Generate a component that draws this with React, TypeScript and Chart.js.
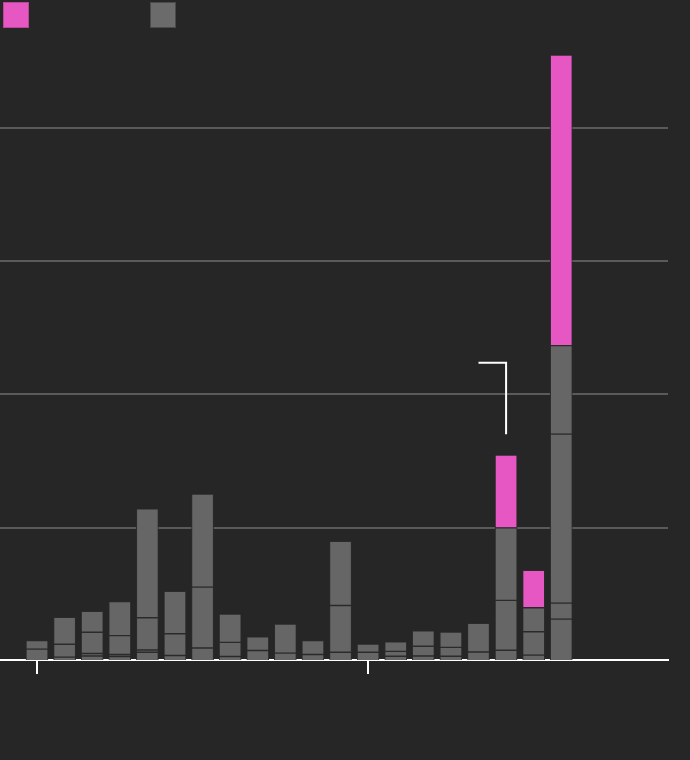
import React, { useEffect, useRef } from "react";
import { Chart, registerables } from "chart.js";

Chart.register(...registerables);

// Category positions (month index) for the 20 bars
const categories = [0, 1, 2, 3, 4, 5, 6, 7, 8, 9, 10, 11, 12, 13, 14, 15, 16, 17, 18, 19];

// Stacked gray components (bottom -> top)
const grayA = [8.9, 3.0, 3.8, 3.4, 6.6, 4.2, 9.8, 3.4, 7.9, 6.0, 4.9, 6.6, 6.6, 3.6, 3.8, 3.6, 6.8, 8.1, 4.5, 31.5];
const grayB = [6.5, 9.6, 1.9, 1.5, 1.7, 16.3, 45.6, 10.6, 10.3, 21.7, 10.5, 35.1, 6.2, 3.7, 7.3, 6.7, 21.5, 37.4, 17.5, 12.0];
const grayC = [null, 20.2, 15.9, 14.2, 24.2, 31.8, 69.9, 21.2, null, null, null, 48.1, null, 7.2, 11.5, 11.5, null, 54.4, 18.0, 126.7];
const grayD = [null, null, 15.7, 25.6, 81.7, null, null, null, null, null, null, null, null, null, null, null, null, null, null, 66.4];
// Highlighted (pink) component
const pink = [null, null, null, null, null, null, null, null, null, null, null, null, null, null, null, null, null, 54.5, 28.0, 217.8];

// Annotation leader line (x in category index, y in value units)
const leaderX = [16, 17, 17];
const leaderY = [223.8, 223.8, 170.1];

const yStep = 100;

const BG = "#262626";
const GRAY = "#666666";
const PINK = "#e657c3";
const SEP = "#2b2b2b";

function toPoints(vals: (number | null)[]) {
  return categories.map((c, i) => ({ x: c, y: vals[i] }));
}

export default function App() {
  const ref = useRef<HTMLCanvasElement | null>(null);

  useEffect(() => {
    if (!ref.current) return;
    const barStyle = (color: string) => ({
      type: "bar" as const,
      backgroundColor: color,
      borderColor: SEP,
      borderWidth: 1,
      borderSkipped: false as const,
      barThickness: 22,
    });
    const chart = new Chart(ref.current, {
      type: "bar",
      data: {
        datasets: [
          { label: "a", data: toPoints(grayA), ...barStyle(GRAY) },
          { label: "b", data: toPoints(grayB), ...barStyle(GRAY) },
          { label: "c", data: toPoints(grayC), ...barStyle(GRAY) },
          { label: "d", data: toPoints(grayD), ...barStyle(GRAY) },
          { label: "p", data: toPoints(pink), ...barStyle(PINK) },
          {
            type: "line" as const,
            label: "leader",
            stack: "leader",
            data: leaderX.map((x, i) => ({ x, y: leaderY[i] })),
            borderColor: "#ffffff",
            borderWidth: 2,
            pointRadius: 0,
            tension: 0,
            fill: false,
          } as any,
        ],
      },
      options: {
        animation: false,
        responsive: false,
        layout: { padding: { top: 40, right: 22, bottom: 86, left: 0 } },
        plugins: { legend: { display: false }, tooltip: { enabled: false } },
        scales: {
          x: {
            type: "linear",
            min: -1.3416,
            max: 22.868,
            stacked: true,
            offset: false,
            z: 1,
            ticks: { display: false, stepSize: 12, includeBounds: false },
            grid: {
              offset: false,
              drawOnChartArea: false,
              drawTicks: true,
              tickLength: 14,
              color: "#ffffff",
              lineWidth: 2,
            },
            border: { display: true, color: "#ffffff", width: 2 },
          },
          y: {
            type: "linear",
            min: 0.8,
            max: 465.8,
            stacked: true,
            ticks: { display: false, stepSize: yStep, includeBounds: false },
            grid: { color: "#5a5a5a", lineWidth: 2, drawTicks: false },
            border: { display: false },
          },
        },
      },
    } as any);
    return () => chart.destroy();
  }, []);

  const box = (left: number, color: string, edge: string): React.CSSProperties => ({
    position: "absolute",
    left,
    top: 2,
    width: 24,
    height: 24,
    background: color,
    border: `1px solid ${edge}`,
  });

  return (
    <div style={{ position: "fixed", left: 0, top: 0, width: 690, height: 760, background: BG, overflow: "hidden" }}>
      <canvas ref={ref} width={690} height={760} style={{ position: "absolute", left: 0, top: 0, width: 690, height: 760 }} />
      <div style={box(3, PINK, "#b8479c")} />
      <div style={box(150, "#6b6b6b", "#4a4a4a")} />
    </div>
  );
}
